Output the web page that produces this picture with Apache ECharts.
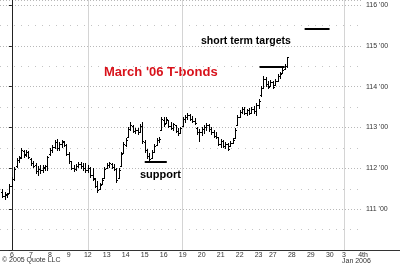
<!DOCTYPE html>
<html>
<head>
<meta charset="utf-8">
<script src="https://cdn.jsdelivr.net/npm/echarts@6/dist/echarts.min.js"></script>
<style>html,body{margin:0;padding:0;background:#fff;}#c{width:400px;height:264px;}</style>
</head>
<body>
<div id="c"></div>
<script>
// Intraday bars (index 0 = first bar of Dec 6; 8 bars per full session)
const firstBar = -4;
const opens = [111.42,111.32,111.35,111.40,111.58,111.74,112.05,112.20,112.27,112.42,112.34,112.40,112.22,112.12,112.08,111.93,111.98,111.95,112.02,112.05,
112.34,112.44,112.52,112.64,112.50,112.60,112.64,112.57,112.36,112.17,112.02,111.98,112.06,112.10,112.05,112.00,111.96,112.00,111.83,111.74,
111.58,111.50,111.62,111.76,112.00,112.08,112.10,112.04,111.98,111.76,112.05,112.37,112.58,112.76,112.96,113.04,112.92,112.94,112.90,113.04,
112.64,112.44,112.30,112.25,112.40,112.57,112.70,112.95,113.18,113.11,113.18,113.05,113.00,113.06,112.92,112.86,113.04,113.20,113.26,113.30,
113.22,113.16,112.98,112.88,112.88,112.96,113.02,113.06,112.96,112.88,112.80,112.76,112.60,112.66,112.56,112.60,112.54,112.62,112.74,113.06,
113.26,113.38,113.46,113.36,113.42,113.36,113.46,113.40,113.56,113.80,113.98,114.20,114.06,114.02,114.12,114.04,114.14,114.26,114.34,114.43,114.50];
const highs = [111.49,111.41,111.39,111.61,111.78,112.03,112.25,112.30,112.49,112.44,112.44,112.42,112.25,112.17,112.12,112.05,112.08,112.08,112.08,112.30,
112.49,112.57,112.69,112.71,112.64,112.69,112.66,112.59,112.39,112.17,112.08,112.10,112.15,112.15,112.12,112.12,112.08,112.03,112.00,111.76,
111.68,111.63,111.76,112.03,112.12,112.15,112.12,112.10,112.00,112.00,112.39,112.64,112.74,113.01,113.13,113.06,112.98,112.98,113.08,113.13,
112.69,112.47,112.37,112.44,112.59,112.74,112.76,113.25,113.25,113.25,113.18,113.13,113.11,113.06,112.98,113.01,113.25,113.30,113.35,113.33,
113.28,113.23,113.01,112.96,113.01,113.06,113.11,113.08,113.01,112.93,112.88,112.76,112.71,112.69,112.64,112.62,112.66,112.74,112.98,113.30,
113.42,113.50,113.50,113.45,113.47,113.50,113.52,113.60,113.69,114.01,114.26,114.23,114.13,114.16,114.13,114.18,114.31,114.36,114.45,114.55,114.72];
const lows = [111.29,111.24,111.29,111.39,111.56,111.71,112.03,112.15,112.25,112.27,112.30,112.25,112.08,112.03,111.88,111.83,111.88,111.90,111.95,111.95,
112.32,112.39,112.49,112.44,112.44,112.52,112.54,112.32,112.12,111.98,111.93,111.95,112.03,112.00,111.95,111.90,111.90,111.78,111.71,111.54,
111.42,111.49,111.61,111.76,112.00,112.03,112.00,111.95,111.66,111.76,112.05,112.37,112.54,112.76,112.93,112.88,112.86,112.84,112.88,112.62,
112.39,112.25,112.15,112.25,112.39,112.57,112.64,112.93,113.03,113.11,113.01,112.96,112.93,112.88,112.81,112.86,113.03,113.13,113.20,113.18,
113.13,113.08,112.84,112.66,112.81,112.86,112.93,112.91,112.84,112.76,112.74,112.57,112.52,112.52,112.49,112.44,112.54,112.62,112.74,113.06,
113.25,113.35,113.33,113.30,113.33,113.35,113.35,113.30,113.47,113.77,113.96,114.01,113.96,114.01,113.96,114.04,114.13,114.21,114.33,114.43,114.48];
const closes = [111.32,111.36,111.37,111.58,111.74,111.98,112.20,112.25,112.44,112.32,112.40,112.28,112.12,112.06,111.93,111.98,111.95,112.03,112.06,112.27,
112.44,112.52,112.64,112.50,112.60,112.66,112.57,112.36,112.17,112.02,111.98,112.06,112.10,112.05,112.00,111.96,112.02,111.83,111.76,111.58,
111.48,111.60,111.72,111.98,112.08,112.12,112.04,111.98,111.72,111.96,112.34,112.60,112.70,112.96,113.06,112.92,112.94,112.88,113.04,112.66,
112.44,112.30,112.22,112.40,112.54,112.70,112.72,113.20,113.08,113.22,113.05,113.00,113.08,112.92,112.86,112.98,113.20,113.26,113.30,113.22,
113.16,113.10,112.88,112.90,112.96,113.02,113.06,112.96,112.88,112.80,112.78,112.60,112.66,112.56,112.60,112.48,112.62,112.70,112.94,113.25,
113.38,113.46,113.36,113.42,113.36,113.46,113.40,113.56,113.66,113.96,114.20,114.06,114.00,114.12,114.00,114.14,114.26,114.32,114.42,114.52,114.72];

// X-axis day labels at session starts (bar index)
const dayTicks  = [0,8,16,24,32,40,48,56,64,72,80,88,96,104,110,118,126,134,140,148];
const dayLabels = ['6','7','8','9','12','13','14','15','16','19','20','21','22','23','27','28','29','30','3','4th'];
const weekStarts = [32,72,140];

// Annotation levels [price, fromBar, toBar]
const supportLine = [112.15, 56, 65.3];
const resistLine  = [114.49, 104.4, 115];
const targetLine  = [115.41, 123.4, 133.9];
const lastPrice = 114.71875;

const data = highs.map((h, i) => [firstBar + i, opens[i], h, lows[i], closes[i]]);

function fmt32(v) {
  const whole = Math.floor(v + 1e-9);
  const t = Math.round((v - whole) * 32);
  return whole + " '" + (t < 10 ? '0' + t : t);
}

const FONT = '"Liberation Sans", Arial, sans-serif';
const chart = echarts.init(document.getElementById('c'), null, {renderer: 'canvas'});

function seg(l) {
  return [{coord: [l[1], l[0]]}, {coord: [l[2], l[0]]}];
}

chart.setOption({
  animation: false,
  backgroundColor: '#fff',
  grid: {left: 0, right: 37, top: 0, bottom: 14, containLabel: false},
  xAxis: {
    type: 'value', min: -5, max: 148,
    axisLine: {show: true, lineStyle: {color: '#333', width: 1}},
    axisTick: {show: false},
    splitLine: {show: false},
    axisLabel: {
      customValues: dayTicks,
      formatter: v => { const k = dayTicks.indexOf(v); return k >= 0 ? dayLabels[k] : ''; },
      fontSize: 7, fontFamily: FONT, color: '#333', margin: 2, showMinLabel: true, showMaxLabel: true
    }
  },
  yAxis: {
    type: 'value', position: 'right', min: 110, max: 116.125, interval: 1,
    axisLine: {show: true, lineStyle: {color: '#222', width: 1}},
    axisTick: {show: true, inside: true, length: 3, lineStyle: {color: '#222'}},
    axisLabel: {
      formatter: v => (v <= 110 ? '' : fmt32(v)),
      fontSize: 7, fontFamily: FONT, color: '#333', margin: 3
    },
    splitLine: {show: true, lineStyle: {color: '#b8b8b8', type: [1, 2], width: 1}},
    minorTick: {show: false, splitNumber: 2},
    minorSplitLine: {show: true, lineStyle: {color: '#c4c4c4', type: [1, 6], width: 1}}
  },
  graphic: [
    {type: 'text', x: 104, y: 72, style: {text: "March '06 T-bonds", fill: '#d8121b', font: 'bold 13px ' + FONT, verticalAlign: 'middle'}},
    {type: 'text', x: 201, y: 41.5, style: {text: 'short term targets', fill: '#000', font: 'bold 10.5px ' + FONT, verticalAlign: 'middle'}},
    {type: 'text', x: 140, y: 175, style: {text: 'support', fill: '#000', font: 'bold 11px ' + FONT, verticalAlign: 'middle'}},
    {type: 'text', x: 2, y: 260, style: {text: '\u00A9 2005 Quote LLC', fill: '#333', font: '7px ' + FONT, verticalAlign: 'middle'}},
    {type: 'text', x: 342, y: 261, style: {text: 'Jan 2006', fill: '#333', font: '7px ' + FONT, verticalAlign: 'middle'}},
    {type: 'line', shape: {x1: 363, y1: 250.5, x2: 400, y2: 250.5}, style: {stroke: '#333', lineWidth: 1}}
  ],
  series: [
    {
      type: 'line', data: [], z: 1, silent: true,
      markLine: {
        silent: true, symbol: 'none', animation: false,
        label: {show: false},
        lineStyle: {color: '#d4d4d4', width: 1, type: 'solid'},
        data: weekStarts.map(w => ({xAxis: w}))
      }
    },
    {
      type: 'custom', z: 5, clip: true,
      encode: {x: 0, y: [1, 2, 3, 4]},
      data: data,
      renderItem: function (params, api) {
        const x = api.value(0);
        const pH = api.coord([x, api.value(2)]);
        const pL = api.coord([x, api.value(3)]);
        const pO = api.coord([x, api.value(1)]);
        const pC = api.coord([x, api.value(4)]);
        const cx = Math.round(pH[0]) + 0.5;
        const yH = Math.round(pH[1]), yL = Math.round(pL[1]) + 1;
        const yO = Math.round(pO[1]) + 0.5, yC = Math.round(pC[1]) + 0.5;
        const st = {stroke: '#000', lineWidth: 1};
        return {
          type: 'group',
          children: [
            {type: 'line', shape: {x1: cx, y1: yH, x2: cx, y2: yL}, style: st},
            {type: 'line', shape: {x1: cx - 1.5, y1: yO, x2: cx, y2: yO}, style: st},
            {type: 'line', shape: {x1: cx, y1: yC, x2: cx + 1.5, y2: yC}, style: st}
          ]
        };
      },
      markLine: {
        silent: true, symbol: 'none', animation: false,
        label: {show: false},
        lineStyle: {color: '#000', width: 2, type: 'solid'},
        data: [
          seg(supportLine), seg(resistLine), seg(targetLine),
          {
            yAxis: lastPrice,
            lineStyle: {opacity: 0},
            label: {
              show: true, position: 'end', distance: 0,
              formatter: () => fmt32(lastPrice),
              backgroundColor: '#000', color: '#fff',
              fontSize: 7, fontFamily: FONT, padding: [1, 12, 1, 3]
            }
          }
        ]
      }
    }
  ]
});
</script>
</body>
</html>
